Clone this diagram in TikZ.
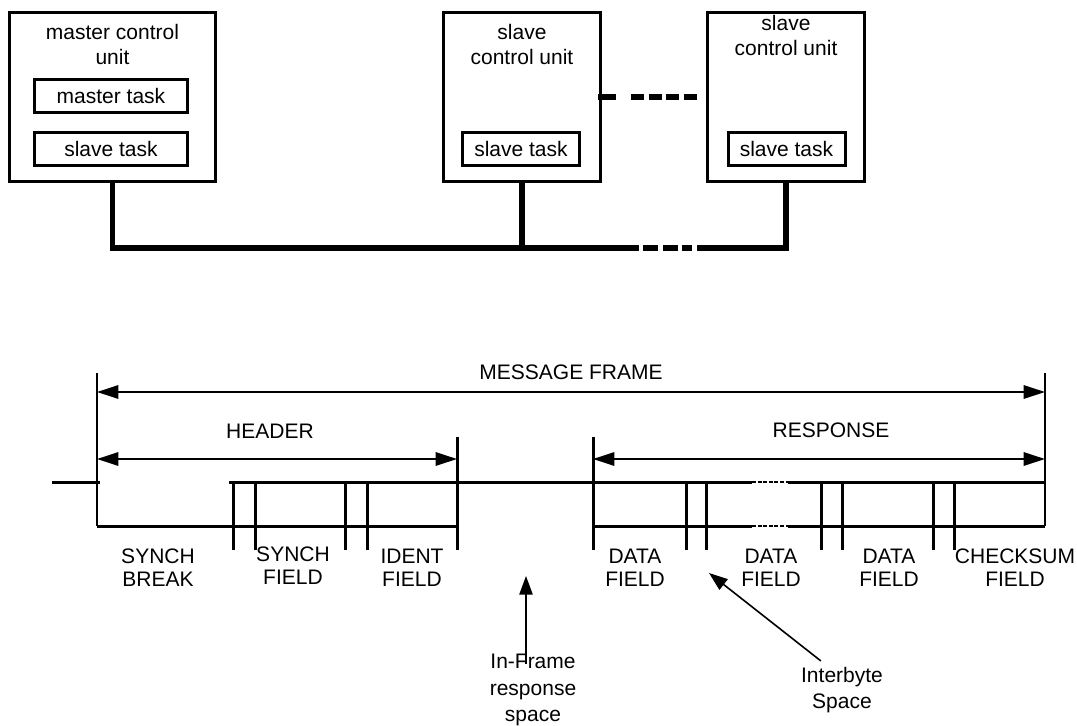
\documentclass[tikz,border=0pt]{standalone}
\usepackage{fontspec}
\setmainfont{Liberation Sans}
\usetikzlibrary{arrows.meta}

\begin{document}
\begin{tikzpicture}[x=0.75pt,y=-0.75pt,
	every node/.style={font=\fontsize{15.75pt}{18.75pt}\selectfont,inner sep=0pt},
	unitbox/.style={draw,line width=2.25pt,minimum width=117.75pt,minimum height=126.75pt},
	taskbox/.style={draw,line width=2.25pt,minimum width=87.75pt,minimum height=24.75pt},
	title/.style={align=center},
	field/.style={align=center,font=\fontsize{15.75pt}{17.25pt}\selectfont},
	note/.style={align=center,font=\fontsize{15.75pt}{20pt}\selectfont},
	bus/.style={line width=4pt},
	sig/.style={line width=2.25pt},
	edge/.style={line width=1.5pt},
	dots/.style={line width=1.8pt,dash pattern=on 3pt off 1.2pt},
	dim/.style={line width=1.5pt,{Triangle[length=16pt,width=10pt]}-{Triangle[length=16pt,width=10pt]}},
	ptr/.style={line width=1.2pt,-{Triangle[length=14pt,width=10pt]}}]
	\fill[white] (0,0) rectangle (1077,725);
	\useasboundingbox (0,0) rectangle (1077,725);
	% control units
	\node[unitbox,minimum width=154.5pt] (master) at (112.5,97) {};
	\node[unitbox] (slave1) at (522,97) {};
	\node[unitbox] (slave2) at (786,97) {};
	\node[title] (mtitle) at (112.5,44.5) {master control\\unit};
	\node[title] (s1title) at (522,44.5) {slave\\control unit};
	\node[title] (s2title) at (786,35.5) {slave\\control unit};
	% tasks
	\node[taskbox,minimum width=114.75pt] (mtask) at (111,96) {master task};
	\node[taskbox,minimum width=114.75pt] (mstask) at (111,149) {slave task};
	\node[taskbox] (s1task) at (521,148.5) {slave task};
	\node[taskbox] (s2task) at (786.5,148.5) {slave task};
	% bus
	\coordinate (busA) at (639,248);
	\coordinate (busB) at (697,248);
	\draw[bus] (master.south) |- (busA);
	\draw[bus] (slave1.south) -- (slave1.south |- busA);
	\draw[bus] (busB) -| (slave2.south);
	\draw[bus,dash pattern=on 11.25pt off 3.75pt on 11.25pt off 3pt] ([xshift=3pt]busA) -- ([xshift=-3.75pt]busB);
	\draw[bus,dash pattern=on 13.5pt off 11.25pt on 9.75pt off 3.4pt on 9.75pt off 3.4pt on 9.75pt off 3.4pt on 9.75pt] ([xshift=-3pt]slave1.east) -- ([xshift=-4.5pt]slave2.west);
	% frame limits
	\coordinate (msgL) at (97,392);
	\coordinate (msgR) at (1045,392);
	\coordinate (hdrL) at (97,459);
	\coordinate (hdrR) at (457,459);
	\coordinate (rspL) at (593,459);
	\coordinate (rspR) at (1045,459);
	\draw[edge] (97,373) -- (97,526);
	\draw[edge] (1045,373) -- (1045,526);
	\draw[sig] (457,437) -- (457,550);
	\draw[sig] (593,437) -- (593,550);
	% dims
	\draw[dim] (msgL) -- (msgR);
	\draw[dim] (hdrL) -- (hdrR);
	\draw[dim] (rspL) -- (rspR);
	\node (msg) at (571,372) {MESSAGE FRAME};
	\node (hdr) at (270,431) {HEADER};
	\node (rsp) at (831,430) {RESPONSE};
	% signal
	\draw[sig] (52,482) -- (100,482);
	\draw[sig] (97,526) -- (457,526);
	\draw[sig] (229,482) -- (752,482);
	\draw[sig] (788,482) -- (1045,482);
	\draw[sig] (593,526) -- (752,526);
	\draw[sig] (788,526) -- (1045,526);
	\draw[dots] (752,482) -- (788,482);
	\draw[dots] (752,526) -- (788,526);
	\foreach \x in {233,255,345,367,686,706,821,842,933,954}
		\draw[sig] (\x,482) -- (\x,550);
	% fields
	\node[field] (sbreak) at (158,568) {SYNCH\\BREAK};
	\node[field] (sfield) at (293,566) {SYNCH\\FIELD};
	\node[field] (ident) at (412,568) {IDENT\\FIELD};
	\node[field] (data1) at (635,568) {DATA\\FIELD};
	\node[field] (data2) at (771,568) {DATA\\FIELD};
	\node[field] (data3) at (889,568) {DATA\\FIELD};
	\node[field] (check) at (1015,568) {CHECKSUM\\FIELD};
	% notes
	\coordinate (ifs) at (526,576);
	\coordinate (ibs) at (709,573);
	\node[note] (inframe) at (533,690) {In-Frame\\response\\space};
	\node[note,font=\fontsize{15.75pt}{19.5pt}\selectfont] (interbyte) at (842,690) {Interbyte\\Space};
	\draw[ptr] ([xshift=-5.25pt,yshift=-7.5pt]inframe.north) -- (ifs);
	\draw[ptr] ([xshift=15pt,yshift=4.5pt]interbyte.north west) -- (ibs);
\end{tikzpicture}
\end{document}
